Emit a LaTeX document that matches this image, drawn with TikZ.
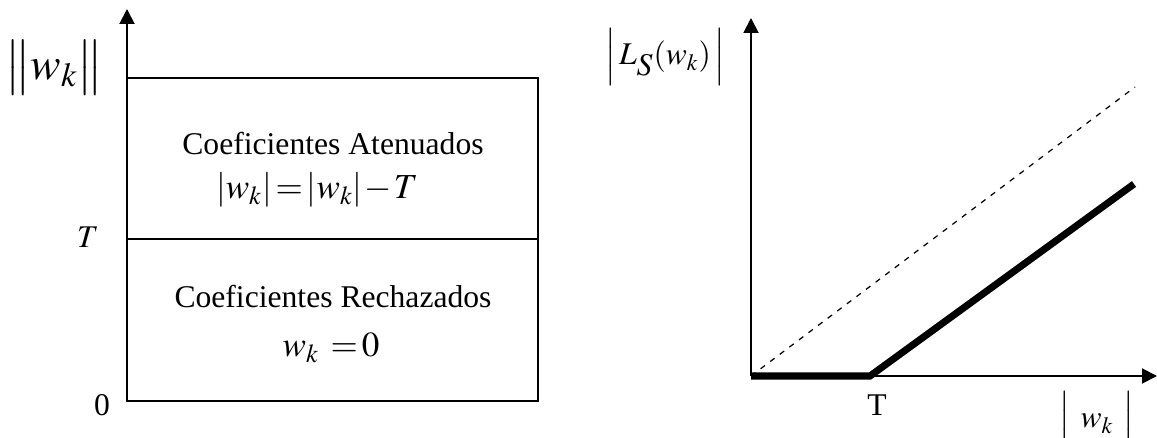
\documentclass[tikz,border=0pt]{standalone}
\usepackage{mathptmx}
\usepackage{fontspec}
\setmainfont{Liberation Serif}
\usetikzlibrary{arrows.meta, positioning, calc}
\newcommand{\tightmath}{\thickmuskip=2mu\relax\medmuskip=1mu\relax}
\tikzset{
	axis/.style ={-{Triangle[length=0.3cm, width=0.3cm]}, line width=1.1pt},
	frame/.style={line width=0.8pt},
	soft/.style ={line width=4pt, line cap=butt},
	ident/.style={dash pattern=on 0.11cm off 0.13cm, line width=0.7pt},
	lbl/.style  ={inner sep=0pt, font=\fontsize{18}{21}\selectfont},
	eq/.style   ={inner sep=0pt, font=\fontsize{20}{24}\selectfont},
}
\begin{document}
\begin{tikzpicture}[x=0.02cm, y=-0.02cm]
	\useasboundingbox (0,0) rectangle (1157,438);
	% regiones de umbral
	\coordinate (tl) at (127,78);
	\coordinate (br) at (538,401);
	\coordinate (ytip1) at (127,9);
	\coordinate (tm) at (127,239);
	\coordinate (tmr) at (538,239);
	\draw[frame] (tl) rectangle (br);
	\draw[frame] (tm) -- (tmr);
	\draw[axis] (tl) -- (ytip1);
	\node[inner sep=0pt, font=\fontsize{26}{30}\selectfont] (norm) at (54,68) {$\bigl\|w_k\bigr\|$};
	\node[lbl] (tlab) at (88,237) {$T$};
	\node[lbl, anchor=north] (zero) at (102,394) {0};
	\node[lbl, anchor=base] (aten) at (333,155) {Coeficientes Atenuados};
	\node[eq, anchor=base] (atenf) at (317,199) {\tightmath$|w_k| = |w_k| - T$};
	\node[lbl, anchor=base] (rech) at (333,308) {Coeficientes Rechazados};
	\node[eq, anchor=base] (rechf) at (331,357) {\tightmath$w_k\;\; = 0$};
	% umbral suave
	\coordinate (o2) at (751,376);
	\coordinate (ytip2) at (751,18);
	\coordinate (xtip2) at (1157,376);
	\coordinate (knee) at (870,376);
	\coordinate (softend) at (1134,184);
	\coordinate (identend) at (1135,87);
	\draw[axis] (o2) -- (ytip2);
	\draw[axis] (o2) -- (xtip2);
	\draw[ident] (o2) -- (identend);
	\draw[soft] (o2) -- (knee) -- (softend);
	\node[lbl] (tk) at (877,405) {T};
	\node[lbl] (wk) at (1097,420) {$\Bigl|\;\,w_k\;\,\Bigr|$};
	\node[lbl] (ls) at (665,57) {$\Bigl|\,L_{\textstyle S}(w_k)\,\Bigr|$};
\end{tikzpicture}
\end{document}
